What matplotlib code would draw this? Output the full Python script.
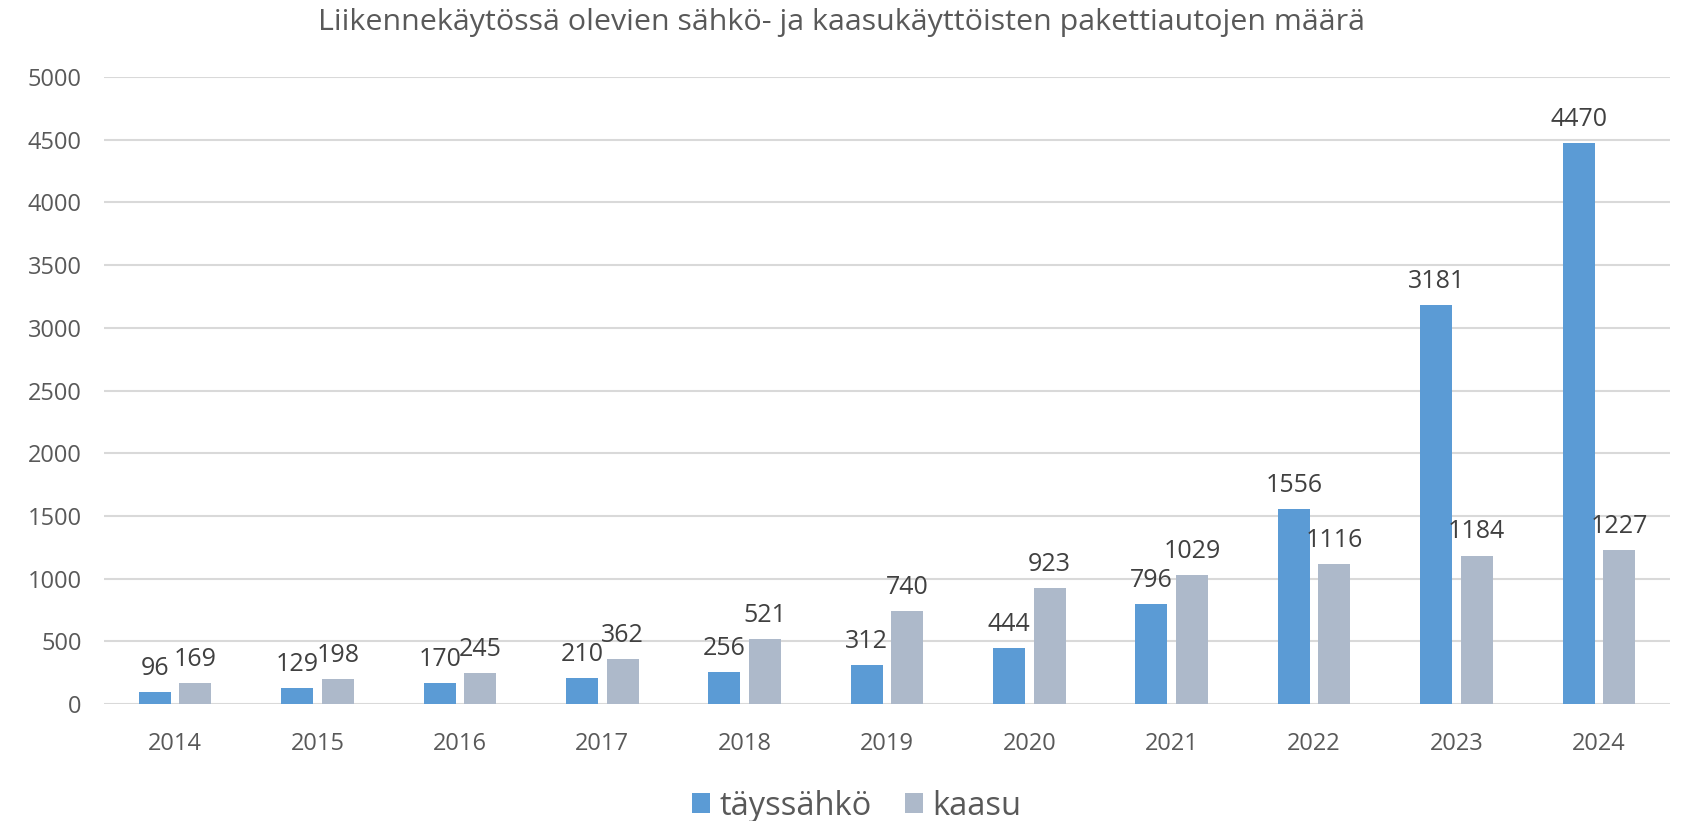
import matplotlib
matplotlib.use("Agg")
import matplotlib.pyplot as plt
import numpy as np

years = ["2014", "2015", "2016", "2017", "2018", "2019", "2020", "2021", "2022", "2023", "2024"]
taysahko = [96, 129, 170, 210, 256, 312, 444, 796, 1556, 3181, 4470]
kaasu = [169, 198, 245, 362, 521, 740, 923, 1029, 1116, 1184, 1227]
series_names = ["täyssähkö", "kaasu"]
title = "Liikennekäytössä olevien sähkö- ja kaasukäyttöisten pakettiautojen määrä"

plt.rcParams['font.family'] = ['Open Sans', 'DejaVu Sans']
txt = "#595959"

fig = plt.figure(figsize=(16.83, 8.21), dpi=100)
ax = fig.add_axes([0.0618, 0.1425, 0.9305, 0.7637])

x = np.arange(len(years))
w = 0.225
gap = 0.06
off = w / 2 + gap / 2
b1 = ax.bar(x - off, taysahko, w, color="#5B9BD5", label=series_names[0], zorder=3)
b2 = ax.bar(x + off, kaasu, w, color="#ADB9CA", label=series_names[1], zorder=3)

for bars, vals in ((b1, taysahko), (b2, kaasu)):
    for r, v in zip(bars, vals):
        ax.annotate(str(v), (r.get_x() + r.get_width() / 2, v), xytext=(0, 8),
                    textcoords="offset points", ha="center", va="bottom",
                    fontsize=18, color="#404040")

ax.set_xlim(-0.5, len(years) - 0.5)
ax.set_ylim(0, 5000)
ax.set_yticks(np.arange(0, 5001, 500))
ax.set_xticks(x)
ax.set_xticklabels(years)
ax.tick_params(axis="both", length=0, labelsize=17, colors=txt)
ax.tick_params(axis="x", pad=20)
ax.tick_params(axis="y", pad=16)
ax.grid(axis="y", color="#D9D9D9", linewidth=1.5, zorder=0)
for s in ax.spines.values():
    s.set_visible(False)

fig.text(0.5, 0.972, title, ha="center", va="center", fontsize=21.9, color=txt)
leg = fig.legend(loc="center", bbox_to_anchor=(0.509, 0.018), ncol=2, frameon=False,
                 fontsize=23.5, handlelength=0.55, handleheight=0.55, columnspacing=1.0,
                 handletextpad=0.3, labelcolor=txt)

fig.savefig("out.png", dpi=100)
